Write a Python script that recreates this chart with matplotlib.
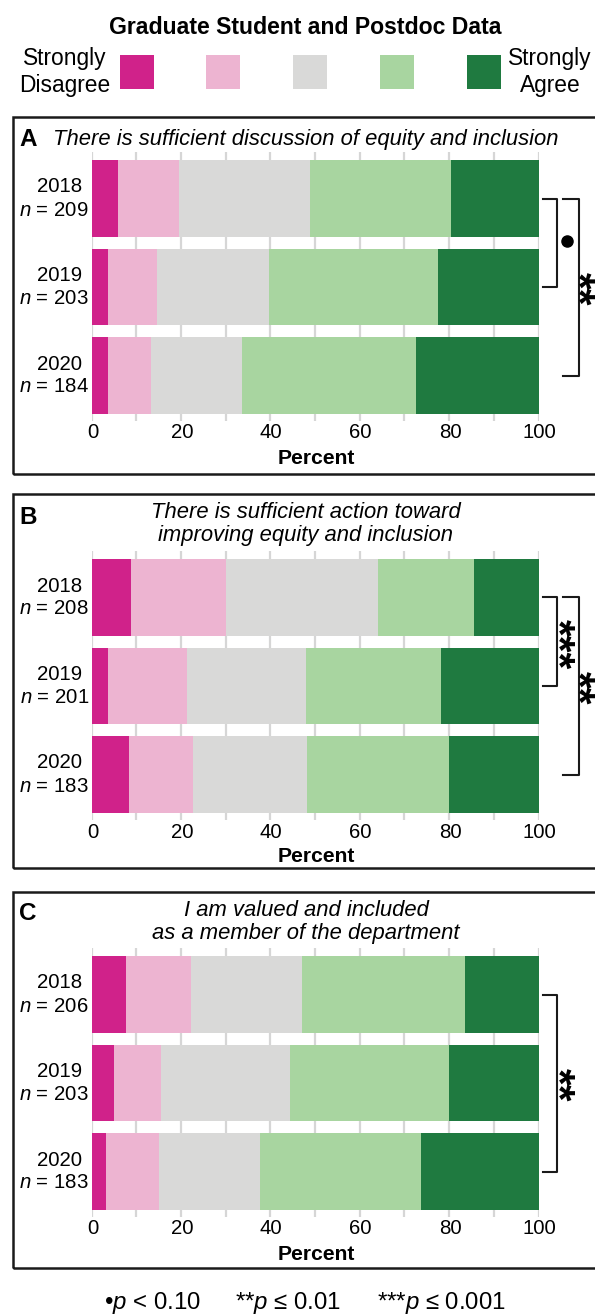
import matplotlib
matplotlib.use('Agg')
import matplotlib.pyplot as plt
from matplotlib.patches import Rectangle
from matplotlib.lines import Line2D

plt.rcParams['font.family'] = ['Liberation Sans', 'DejaVu Sans']
plt.rcParams['mathtext.fontset'] = 'custom'
plt.rcParams['mathtext.rm'] = 'Liberation Sans'
plt.rcParams['mathtext.it'] = 'Liberation Sans:italic'

# ---------------- data ----------------
years = ['2018', '2019', '2020']
categories = ['Strongly Disagree', 'Disagree', 'Neutral', 'Agree', 'Strongly Agree']

n_discussion = [209, 203, 184]
n_action = [208, 201, 183]
n_valued = [206, 203, 183]

# percent per year: [Strongly Disagree, Disagree, Neutral, Agree, Strongly Agree]
pct_discussion = [[6.0, 13.5, 29.4, 31.6, 19.5],
                  [3.6, 11.1, 25.0, 37.8, 22.5],
                  [3.7, 9.5, 20.4, 39.0, 27.4]]
pct_action = [[8.9, 21.3, 33.9, 21.5, 14.4],
              [3.6, 17.7, 26.6, 30.3, 21.8],
              [8.3, 14.5, 25.4, 31.8, 20.0]]
pct_valued = [[7.7, 14.6, 24.9, 36.4, 16.4],
              [5.0, 10.5, 28.9, 35.6, 20.0],
              [3.2, 11.9, 22.5, 36.2, 26.2]]

# significance comparisons (index of year a, index of year b, label)
sig_discussion = [(0, 1, '•'), (0, 2, '**')]
sig_action = [(0, 1, '***'), (0, 2, '**')]
sig_valued = [(0, 2, '**')]

titles = ['There is sufficient discussion of equity and inclusion',
          'There is sufficient action toward\nimproving equity and inclusion',
          'I am valued and included\nas a member of the department']
panel_letters = ['A', 'B', 'C']
tick_values = [0, 20, 40, 60, 80, 100]

colors = ['#D0228A', '#EDB4D1', '#D9D9D8', '#A8D5A0', '#1F7A40']

# ---------------- layout ----------------
W, H = 595, 1316
fig = plt.figure(figsize=(W / 100, H / 100), dpi=100)


def fx(x):
    return x / W


def fy(y):
    return 1 - y / H


FS = 14.7
fig.text(fx(305.5), fy(27), 'Graduate Student and Postdoc Data', ha='center', va='center',
         fontsize=16.6, fontweight='bold')

# legend
sq_left = [120, 206, 293, 380, 467]
for x0, c in zip(sq_left, colors):
    fig.patches.append(Rectangle((fx(x0), fy(89)), 34 / W, 34 / H, transform=fig.transFigure,
                                 facecolor=c, edgecolor='none'))
fig.text(fx(64.5), fy(72), 'Strongly\nDisagree', ha='center', va='center', fontsize=16.4,
         linespacing=1.18)
fig.text(fx(550), fy(72), 'Strongly\nAgree', ha='center', va='center', fontsize=16.4,
         linespacing=1.18)

panels = [
    dict(pct=pct_discussion, n=n_discussion, sig=sig_discussion, c0=198.5,
         box=(117, 474), title_y=139, letter_y=139, tick_y=433, lab_y=458),
    dict(pct=pct_action, n=n_action, sig=sig_action, c0=597.5,
         box=(494, 868), title_y=524, letter_y=518, tick_y=832, lab_y=857),
    dict(pct=pct_valued, n=n_valued, sig=sig_valued, c0=994.5,
         box=(892, 1268), title_y=922, letter_y=914, tick_y=1229, lab_y=1255),
]
S = 88.5
X0, X1 = 91.5, 538.5

for i, p in enumerate(panels):
    c0 = p['c0']
    top = c0 - 0.52 * S
    bot = c0 + 2.51 * S
    ax = fig.add_axes([fx(X0), fy(bot), (X1 - X0) / W, (bot - top) / H])
    ypos = list(range(len(years)))
    left = [0.0] * len(years)
    for k in range(len(categories)):
        vals = [row[k] for row in p['pct']]
        ax.barh(ypos, vals, left=left, height=0.87, color=colors[k], edgecolor='none', zorder=2)
        left = [a + b for a, b in zip(left, vals)]
    ax.set_xlim(0, 100)
    ax.set_ylim(2.51, -0.52)
    ax.set_xticks(tick_values)
    ax.set_xticks(range(10, 100, 20), minor=True)
    ax.set_xticklabels([])
    ax.tick_params(axis='both', length=0, which='both')
    ax.set_yticks([])
    ax.grid(axis='x', which='both', color='#D6D6D6', linewidth=1.6, zorder=0)
    ax.set_axisbelow(True)
    for s in ax.spines.values():
        s.set_visible(False)
    for t in tick_values:
        fig.text(fx(X0 + (X1 - X0) * t / 100 + 1), fy(p['tick_y']), str(t), ha='center',
                 va='center', fontsize=FS)
    fig.text(fx(316), fy(p['lab_y']), 'Percent', ha='center', va='center', fontsize=15.2,
             fontweight='bold')

    # year labels
    for j, (yr, n) in enumerate(zip(years, p['n'])):
        c = c0 + j * S
        fig.text(fx(82), fy(c - 11.5), yr, ha='right', va='center', fontsize=FS)
        fig.text(fx(89), fy(c + 11.5), '$n$ = %d' % n, ha='right', va='center', fontsize=FS)

    # panel letter and title
    fig.text(fx(19), fy(p['letter_y']), panel_letters[i], ha='left', va='center', fontsize=17.5,
             fontweight='bold')
    fig.text(fx(306), fy(p['title_y']), titles[i], ha='center', va='center', fontsize=15.8,
             style='italic', linespacing=1.15)

    # box
    y0, y1 = p['box']
    fig.patches.append(Rectangle((fx(13), fy(y1)), (W + 20 - 13) / W, (y1 - y0) / H,
                                 transform=fig.transFigure, facecolor='none',
                                 edgecolor='#1a1a1a', linewidth=1.8, clip_on=False))

    # significance brackets
    for (a, b, lab) in p['sig']:
        outer = (b - a) == 2 and len(p['sig']) > 1
        xl, xr = (563, 579) if outer else (543, 557)
        ya, yb = c0 + a * S, c0 + b * S
        fig.lines.append(Line2D([fx(xl), fx(xr), fx(xr), fx(xl)], [fy(ya), fy(ya), fy(yb), fy(yb)],
                                transform=fig.transFigure, color='#1a1a1a', linewidth=1.5))
        ym = (ya + yb) / 2 + 2
        if lab == '•':
            fig.lines.append(Line2D([fx(567)], [fy(ym - 4)], transform=fig.transFigure, marker='o',
                                    markersize=8, color='black', linestyle='none'))
        else:
            xs = 577 if outer else 557
            fig.text(fx(xs), fy(ym), lab, ha='center', va='center', fontsize=31,
                     fontweight='bold', rotation=-90)

# footnote
fig.text(fx(152), fy(1303), '•$p$ < 0.10', ha='center', va='center', fontsize=17.3)
fig.text(fx(288.5), fy(1303), '**$p$ ≤ 0.01', ha='center', va='center', fontsize=17.3)
fig.text(fx(441.5), fy(1303), '***$p$ ≤ 0.001', ha='center', va='center', fontsize=17.3)

fig.savefig('out.png', dpi=100)
